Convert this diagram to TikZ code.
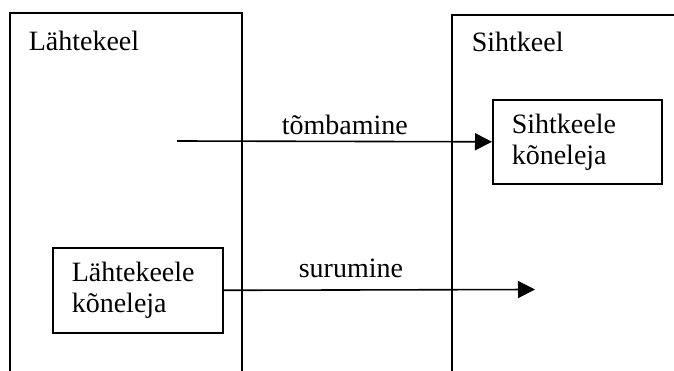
\documentclass[tikz,border=0pt]{standalone}
\usepackage{fontspec}
\setmainfont{Liberation Serif}
\usetikzlibrary{arrows.meta}
\begin{document}
\begin{tikzpicture}[x=1pt,y=-1pt,
  line width=1.6pt,
  every node/.style={font=\fontsize{28}{31}\selectfont},
  frame/.style={draw=black, line width=1.6pt},
  spkbox/.style={draw=black, line width=1.6pt, align=left, inner xsep=19pt, inner ysep=0pt, anchor=north west},
  lbl/.style={anchor=base west, inner sep=0pt},
  arr/.style={-{Triangle[length=17pt,width=17pt]}, line width=1.6pt}]
\useasboundingbox (0,0) rectangle (674,371);
% frames
\draw[frame] (10,375) -- (10,13) -- (242,13) -- (242,375);
\draw[frame] (452,375) -- (452,15) -- (680,15);
\node[lbl] (src) at (28,51) {Lähtekeel};
\node[lbl] (tgt) at (471,52) {Sihtkeel};
% speaker boxes
\node[spkbox, minimum width=169pt, minimum height=84pt, text width=131pt] (sk) at (492,99) {Sihtkeele\\kõneleja};
\node[spkbox, minimum width=170pt, minimum height=85pt, text width=132pt] (lk) at (52,247) {Lähtekeele\\kõneleja};
% arrows
\coordinate (pullstart) at (177,141);
\coordinate (pushend) at (535,289.5);
\draw[arr] (pullstart) -- (sk.west);
\draw[arr] (lk.east) -- (pushend);
\node[lbl] (pull) at (281,135) {tõmbamine};
\node[lbl] (push) at (298,277) {surumine};
\end{tikzpicture}
\end{document}
